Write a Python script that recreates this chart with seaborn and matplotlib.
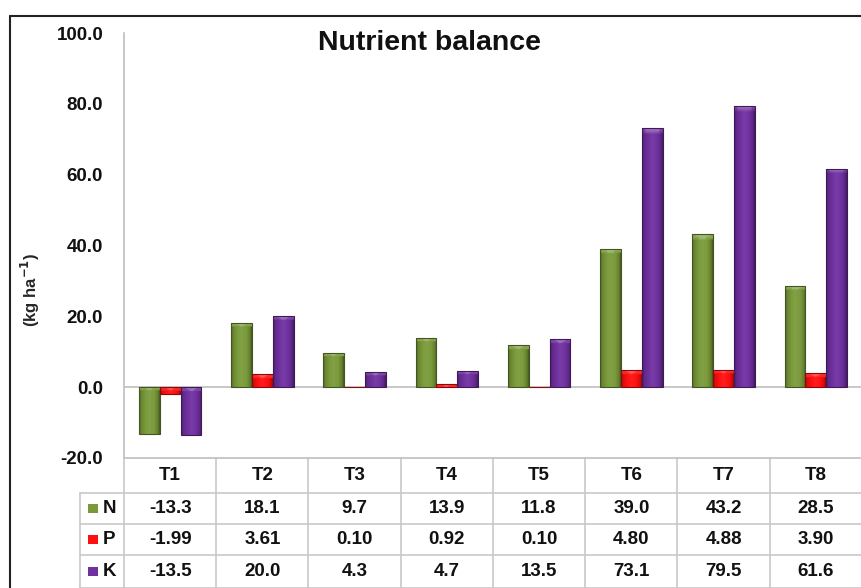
import numpy as np
import pandas as pd
import matplotlib
matplotlib.use("Agg")
import matplotlib.pyplot as plt
import matplotlib.transforms as mtransforms
from matplotlib.lines import Line2D
from matplotlib.patches import Rectangle
from matplotlib.colors import to_rgb
import seaborn as sns

# ---- data -------------------------------------------------------------
treatments = ["T1", "T2", "T3", "T4", "T5", "T6", "T7", "T8"]
n_balance = [-13.3, 18.1, 9.7, 13.9, 11.8, 39.0, 43.2, 28.5]
p_balance = [-1.99, 3.61, 0.10, 0.92, 0.10, 4.80, 4.88, 3.90]
k_balance = [-13.5, 20.0, 4.3, 4.7, 13.5, 73.1, 79.5, 61.6]
nutrients = ["N", "P", "K"]
value_formats = {"N": "{:.1f}", "P": "{:.2f}", "K": "{:.1f}"}
y_ticks = [-20, 0, 20, 40, 60, 80, 100]

colors = {"N": "#7A9A3A", "P": "#FF1010", "K": "#7030A0"}

df = pd.DataFrame({
    "treatment": treatments * 3,
    "nutrient": ["N"] * 8 + ["P"] * 8 + ["K"] * 8,
    "value": n_balance + p_balance + k_balance,
})
series = {"N": n_balance, "P": p_balance, "K": k_balance}

# ---- figure -------------------------------------------------------------
sns.set_theme(style="white")
plt.rcParams["font.family"] = ["Liberation Sans", "DejaVu Sans"]
plt.rcParams["font.weight"] = "bold"

W, H = 862, 588
fig = plt.figure(figsize=(W / 100, H / 100), dpi=100)


def fx(px):
    return px / W


def fy(py):
    return 1 - py / H


ax = fig.add_axes([fx(124), fy(458), fx(862) - fx(124), fy(33) - fy(458)])

sns.barplot(data=df, x="treatment", y="value", hue="nutrient",
            order=treatments, hue_order=nutrients, palette=colors,
            width=0.68, gap=0, saturation=1, legend=False, ax=ax,
            edgecolor="none", linewidth=0, zorder=3)

ax.set_xlim(-0.5, len(treatments) - 0.5)
ax.set_ylim(-20, 100)


def shade(rgb, f):
    rgb = np.array(rgb)
    if f < 1:
        return rgb * f
    return rgb + (1 - rgb) * (f - 1)


# bevelled look: darker sides, lighter top cap
px_per_unit = 425 / 120.0
for patch in list(ax.patches):
    x0, y0 = patch.get_x(), patch.get_y()
    w, h = patch.get_width(), patch.get_height()
    if abs(h) < 1e-9:
        continue
    base = to_rgb(patch.get_facecolor())
    nx, ny = 24, 60
    t = np.linspace(0, 1, nx)
    prof = np.interp(t, [0, 0.08, 0.3, 0.5, 0.75, 0.92, 1.0],
                     [0.62, 0.85, 1.0, 1.06, 1.0, 0.82, 0.6])
    img = np.zeros((ny, nx, 3))
    for j in range(nx):
        img[:, j, :] = shade(base, prof[j])
    ylo, yhi = min(y0, y0 + h), max(y0, y0 + h)
    cap_rows = int(round(ny * min(1.0, 4.0 / (abs(h) * px_per_unit))))
    for i in range(cap_rows):
        for j in range(nx):
            d = abs(t[j] - 0.5)
            f = 1.3 if d < 0.35 * (1 - i / max(cap_rows, 1)) else 1.1
            img[i, j, :] = shade(base, f)
    im = ax.imshow(np.clip(img, 0, 1), extent=[x0, x0 + w, ylo, yhi],
                   origin="upper", aspect="auto", zorder=3.5,
                   interpolation="bilinear")
    im.set_clip_path(patch)
    ax.add_patch(Rectangle((x0, ylo), w, yhi - ylo, fill=False,
                           edgecolor=shade(base, 0.55), linewidth=0.8,
                           zorder=3.6))

ax.set_xlim(-0.5, len(treatments) - 0.5)
ax.set_ylim(-20, 100)

ax.axhline(0, color="#bfbfbf", linewidth=1.2, zorder=2)
for side in ["top", "right"]:
    ax.spines[side].set_visible(False)
for side in ["left", "bottom"]:
    ax.spines[side].set_color("#bfbfbf")
    ax.spines[side].set_linewidth(1.2)

ax.set_xticks([])
ax.set_xlabel("")
ax.set_yticks(y_ticks)
ax.set_yticklabels([f"{v:.1f}" for v in y_ticks], fontsize=13.5,
                   fontweight="bold", color="#111111")
ax.tick_params(axis="y", length=0, pad=15)
ax.set_ylabel("")

fig.text(fx(30), fy(290), r"(kg ha$^{\mathbf{-1}}$)", rotation=90,
         ha="center", va="center", fontsize=12, fontweight="bold")
fig.text(fx(430), fy(43), "Nutrient balance", ha="center", va="center",
         fontsize=20.5, fontweight="bold", color="#111111")

# ---- data table under the axis -------------------------------------------
tr = mtransforms.blended_transform_factory(ax.transData, fig.transFigure)
grid = "#c8c8c8"
row_edges = [458, 493, 524, 555, 588]
fs = 13.5

# horizontal rules
fig.add_artist(Line2D([fx(80), fx(862)], [fy(493), fy(493)], color=grid, lw=1.2))
for ry in row_edges[2:]:
    fig.add_artist(Line2D([fx(80), fx(862)], [fy(ry), fy(ry)], color=grid, lw=1.2))
fig.add_artist(Line2D([fx(80), fx(80)], [fy(493), fy(588)], color=grid, lw=1.2))
fig.add_artist(Line2D([fx(124), fx(124)], [fy(458), fy(588)], color=grid, lw=1.2))
# vertical rules between treatments
for i in range(1, len(treatments)):
    xl = i - 0.5
    ax.add_artist(Line2D([xl, xl], [fy(458), fy(588)], transform=tr,
                         color=grid, lw=1.2, clip_on=False))

for i, name in enumerate(treatments):
    fig.text(i, fy(475.5), name, transform=tr, ha="center", va="center",
             fontsize=fs, fontweight="bold", color="#111111")

for r, key in enumerate(nutrients):
    yc = fy((row_edges[r + 1] + row_edges[r + 2]) / 2)
    fig.add_artist(Rectangle((fx(88), yc - 4.5 / H), 10 / W, 9 / H,
                             facecolor=colors[key], edgecolor="none"))
    fig.text(fx(103), yc, key, ha="left", va="center", fontsize=fs,
             fontweight="bold", color="#111111")
    for i, v in enumerate(series[key]):
        fig.text(i, yc, value_formats[key].format(v), transform=tr,
                 ha="center", va="center", fontsize=fs, fontweight="bold",
                 color="#111111")

# outer chart border
fig.add_artist(Line2D([fx(10), fx(862)], [fy(16), fy(16)], color="#222222", lw=1.5))
fig.add_artist(Line2D([fx(10), fx(10)], [fy(16), fy(588)], color="#222222", lw=1.5))

fig.savefig("out.png", dpi=100)
